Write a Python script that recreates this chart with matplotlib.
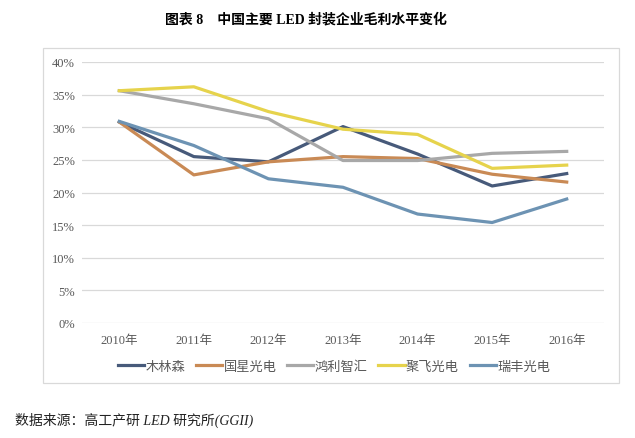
import matplotlib
matplotlib.use('Agg')
import matplotlib.pyplot as plt
from matplotlib.patches import Rectangle
from matplotlib.ticker import FuncFormatter

plt.rcParams['font.family'] = ['Liberation Serif', 'Noto Sans CJK SC', 'DejaVu Sans']

years = ['2010年', '2011年', '2012年', '2013年', '2014年', '2015年', '2016年']
mulinsen = [30.8, 25.5, 24.7, 30.1, 25.9, 21.0, 22.9]
guoxing = [30.8, 22.7, 24.7, 25.5, 25.2, 22.8, 21.6]
hongli = [35.6, 33.6, 31.3, 24.9, 24.9, 26.0, 26.3]
jufei = [35.6, 36.2, 32.4, 29.7, 28.9, 23.7, 24.2]
ruifeng = [30.9, 27.2, 22.1, 20.8, 16.7, 15.4, 19.0]

series = [
    ('木林森', mulinsen, '#475a7a'),
    ('国星光电', guoxing, '#c98a55'),
    ('鸿利智汇', hongli, '#a8a8a8'),
    ('聚飞光电', jufei, '#e6d34c'),
    ('瑞丰光电', ruifeng, '#6d93b3'),
]

fig = plt.figure(figsize=(6.35, 4.39), dpi=100)

# chart frame
fig.patches.append(Rectangle((43 / 635, 1 - 384 / 439), (619 - 43) / 635, (384 - 49) / 439,
                             transform=fig.transFigure, fill=False,
                             edgecolor='#d9d9d9', linewidth=0.9))

ax = fig.add_axes([82 / 635, 1 - 324 / 439, (604 - 82) / 635, (324 - 63) / 439])
x = list(range(len(years)))
for name, vals, color in series:
    ax.plot(x, [v / 100 for v in vals], color=color, linewidth=2.3, label=name,
            solid_joinstyle='round')

ax.set_xlim(-0.5, 6.5)
ax.set_ylim(0, 0.4)
ax.set_yticks([i * 0.05 for i in range(9)])
ax.yaxis.set_major_formatter(FuncFormatter(lambda v, p: f'{v * 100:.0f}%'))
ax.set_xticks(x)
ax.set_xticklabels(years)
ax.grid(axis='y', color='#d9d9d9', linewidth=0.9)
ax.set_axisbelow(True)
for s in ax.spines.values():
    s.set_visible(False)
ax.tick_params(length=0, labelsize=9, colors='#595959', pad=5)
ax.tick_params(axis='x', pad=8)

leg = fig.legend(loc='center', bbox_to_anchor=(334 / 635, 1 - 367 / 439), ncol=5,
                 frameon=False, handlelength=2.0, handletextpad=0.1,
                 columnspacing=0.8,
                 prop={'family': ['Noto Sans CJK SC'], 'size': 9.5})
for t in leg.get_texts():
    t.set_color('#595959')

fig.text(306 / 635, 1 - 20 / 439, '图表 8    中国主要 LED 封装企业毛利水平变化', ha='center', va='center',
         fontsize=10, fontweight='bold')
fig.text(15 / 635, 1 - 420 / 439, '数据来源：高工产研 LED 研究所(GGII)', ha='left', va='center',
         fontsize=10, style='italic', color='#222222')

fig.savefig('out.png', dpi=100)
